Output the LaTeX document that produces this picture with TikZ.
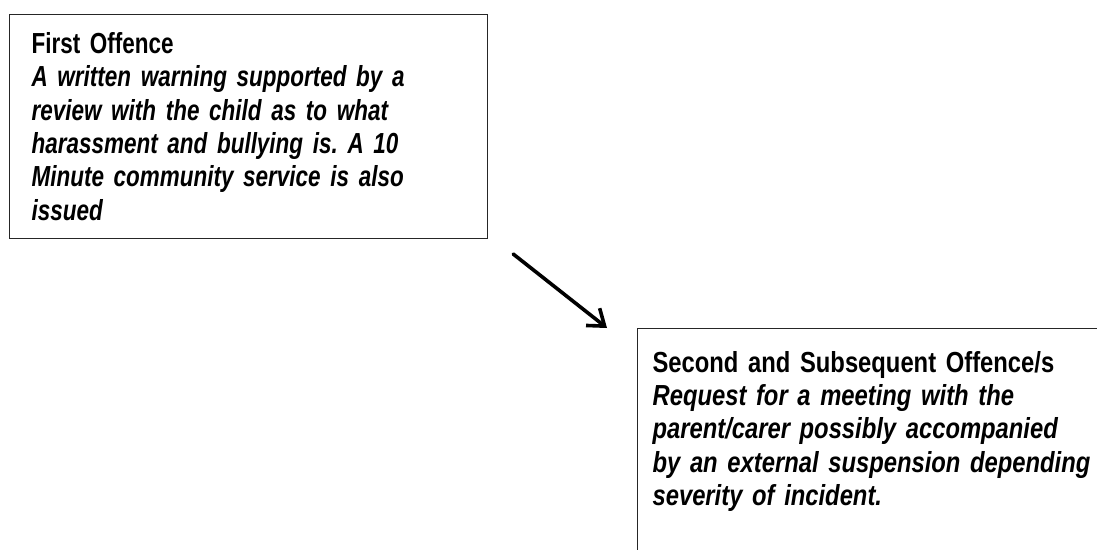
\documentclass[tikz,border=0pt]{standalone}
\usepackage{fontspec}
\setmainfont[FakeStretch=0.82]{Liberation Sans}
\newfontfamily\narrowfont[FakeStretch=0.775]{Liberation Sans}
\usetikzlibrary{arrows.meta}
\frenchspacing

\tikzset{
  offencebox/.style={draw=black!85, line width=1.2pt, anchor=north west, align=left,
    font=\fontsize{29}{33.3}\selectfont\bfseries},
}

\begin{document}
\begin{tikzpicture}[x=1pt,y=-1pt]
  \clip (0,0) rectangle (1097,549);
  % first step: warning
  \node[offencebox, font={\narrowfont\fontsize{29}{33.3}\selectfont\bfseries}, inner xsep=22pt, inner ysep=18pt, text width=434pt] (first) at (9,14)
    {First Offence\\
     \itshape A written warning supported by a\\
     review with the child as to what\\
     harassment and bullying is. A 10\\
     Minute community service is also\\
     issued};
  % second step: meeting, box runs off the page
  \node[offencebox, inner xsep=15pt, inner ysep=22.5pt, text width=470pt, text depth=300pt] (second) at (637,328)
    {Second and Subsequent Offence/s\\
     \itshape Request for a meeting with the\\
     parent/carer possibly accompanied\\
     by an external suspension depending\\
     severity of incident.};
  \draw[line width=3.6pt, line cap=round, -{Straight Barb[length=15pt,width=22pt]}]
    ([shift={(25,15)}]first.south east) -- ([shift={(-30,0)}]second.north west);
\end{tikzpicture}
\end{document}
